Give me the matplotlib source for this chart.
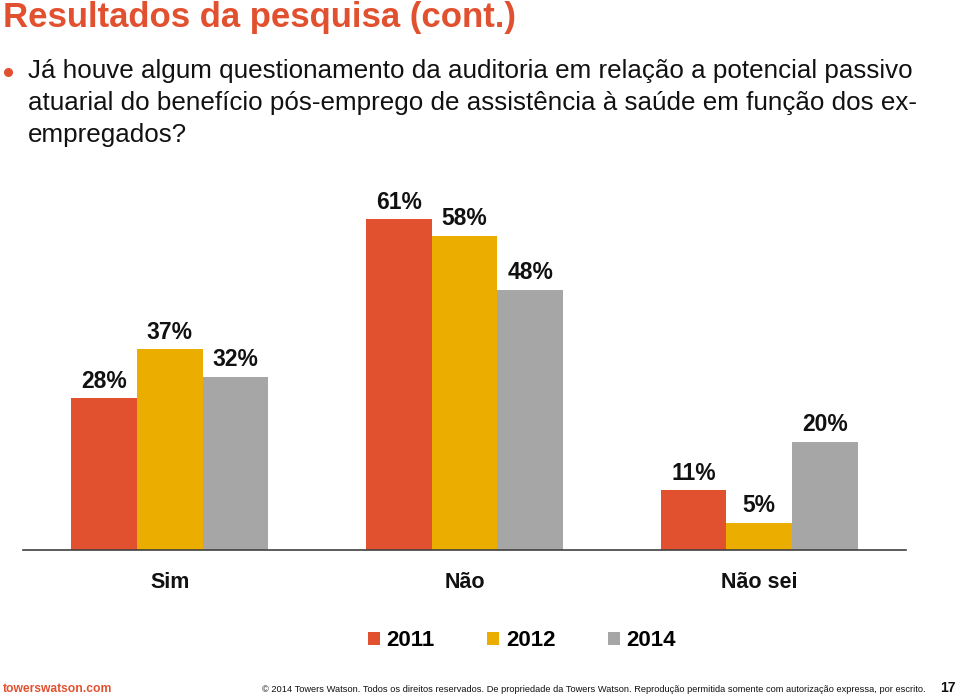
import numpy as np
import matplotlib
matplotlib.use("Agg")
import matplotlib.pyplot as plt

# Dados
categorias = ["Sim", "Não", "Não sei"]
anos = ["2011", "2012", "2014"]
v2011 = [28, 61, 11]
v2012 = [37, 58, 5]
v2014 = [32, 48, 20]
cores = ["#E2512F", "#EAAD00", "#A6A6A6"]

LARANJA = "#E2512F"
plt.rcParams["font.family"] = ["Liberation Sans", "DejaVu Sans"]

W, H = 960, 698
fig = plt.figure(figsize=(W / 100, H / 100), dpi=100)

# eixo: baseline em y=550 px, 0..70% com ~5.42 px por ponto
base = 550
top = base - 70 * 5.42
ax = fig.add_axes([22.5 / W, 1 - base / H, 884 / W, (base - top) / H])

x = np.arange(len(categorias))
largura = 0.223
series = [v2011, v2012, v2014]
barras = []
for i, (vals, cor, ano) in enumerate(zip(series, cores, anos)):
    b = ax.bar(x + (i - 1) * largura, vals, largura, color=cor, label=ano)
    barras.append(b)
    for xi, v in zip(x + (i - 1) * largura, vals):
        ax.annotate(f"{v}%", (xi, v), xytext=(0, 4), textcoords="offset points",
                    ha="center", va="bottom", fontsize=16.5, fontweight="bold",
                    color="#111111")

ax.set_xlim(-0.5, 2.5)
ax.set_ylim(0, 70)
for s in ["top", "right", "left"]:
    ax.spines[s].set_visible(False)
ax.spines["bottom"].set_color("#404040")
ax.spines["bottom"].set_linewidth(1.2)
ax.set_yticks([])
ax.set_xticks(x)
ax.set_xticklabels(categorias, fontsize=15.5, fontweight="bold", color="#111111")
ax.tick_params(axis="x", length=0, pad=16)

# legenda
fig.legend(handles=barras, labels=anos, loc="center",
           bbox_to_anchor=(522 / W, 1 - 641 / H), ncol=3, frameon=False,
           prop={"size": 16, "weight": "bold"},
           handlelength=0.55, handleheight=0.55, handletextpad=0.3,
           columnspacing=2.35)

# título e texto
fig.text(3 / W, 1 - 18 / H, "Resultados da pesquisa (cont.)", fontsize=25,
         fontweight="bold", color=LARANJA, va="center", ha="left")
fig.add_artist(plt.Line2D([8 / W], [1 - 72 / H], marker="o", markersize=5.5,
                          color=LARANJA, transform=fig.transFigure))
linhas = ["Já houve algum questionamento da auditoria em relação a potencial passivo",
          "atuarial do benefício pós-emprego de assistência à saúde em função dos ex-",
          "empregados?"]
for k, t in enumerate(linhas):
    fig.text(28 / W, 1 - (71 + 32 * k) / H, t, fontsize=18.7, color="#111111",
             va="center", ha="left")

# rodapé
fig.text(3 / W, 1 - 689 / H, "towerswatson.com", fontsize=8.7, fontweight="bold",
         color=LARANJA, va="center", ha="left")
fig.text(926 / W, 1 - 689 / H,
         "© 2014 Towers Watson. Todos os direitos reservados. De propriedade da Towers Watson. "
         "Reprodução permitida somente com autorização expressa, por escrito.",
         fontsize=6.7, color="#111111", va="center", ha="right")
fig.text(956 / W, 1 - 688 / H, "17", fontsize=10, fontweight="bold", color="#111111",
         va="center", ha="right")

fig.savefig("out.png", dpi=100)
